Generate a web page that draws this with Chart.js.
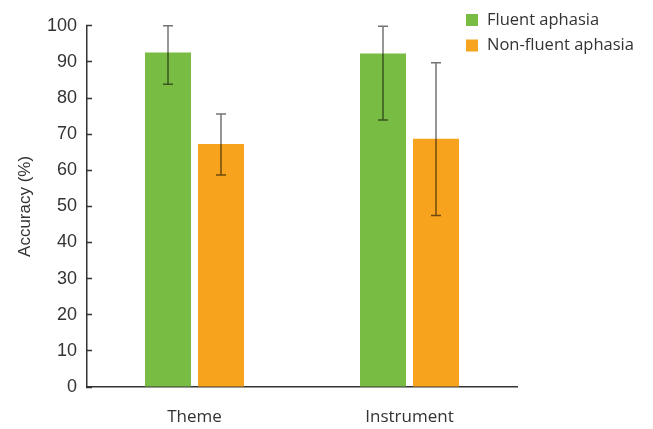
<!DOCTYPE html>
<html>
<head>
<meta charset="utf-8">
<script src="https://cdn.jsdelivr.net/npm/chart.js@4"></script>
<style>
  html, body { margin: 0; padding: 0; background: #fff; }
  #wrap { width: 653px; height: 429px; }
</style>
</head>
<body>
<div id="wrap"><canvas id="accChart"></canvas></div>
<script>
const categories = ['Theme', 'Instrument'];
const seriesNames = ['Fluent aphasia', 'Non-fluent aphasia'];
const fluent = [92.6, 92.3];
const nonFluent = [67.3, 68.7];
// error bar ends (low, high)
const fluentLow = [83.8, 73.9];
const fluentHigh = [100, 99.9];
const nonFluentLow = [58.7, 47.5];
const nonFluentHigh = [75.6, 89.8];
const yTicks = [0, 10, 20, 30, 40, 50, 60, 70, 80, 90, 100];

const green = '#78BC43';
const orange = '#F7A31E';

// draws the whiskers from the low/high arrays
const errorBars = {
  id: 'errorBars',
  afterDatasetsDraw(chart) {
    const ctx = chart.ctx;
    const y = chart.scales.y;
    chart.data.datasets.forEach((ds, di) => {
      const meta = chart.getDatasetMeta(di);
      meta.data.forEach((bar, i) => {
        const top = y.getPixelForValue(ds.errHigh[i]);
        const bot = y.getPixelForValue(ds.errLow[i]);
        ctx.save();
        ctx.strokeStyle = 'rgba(0,0,0,0.55)';
        ctx.lineWidth = 1.5;
        ctx.beginPath();
        ctx.moveTo(bar.x, top); ctx.lineTo(bar.x, bot);
        ctx.moveTo(bar.x - 5, top); ctx.lineTo(bar.x + 5, top);
        ctx.moveTo(bar.x - 5, bot); ctx.lineTo(bar.x + 5, bot);
        ctx.stroke();
        ctx.restore();
      });
    });
  }
};

// legend sits in the top right corner, partly over the plot
const cornerLegend = {
  id: 'cornerLegend',
  afterDraw(chart) {
    const ctx = chart.ctx;
    ctx.save();
    ctx.font = '16.5px "Open Sans"';
    ctx.textBaseline = 'middle';
    chart.data.datasets.forEach((ds, i) => {
      const cy = 20 + i * 25.5;
      ctx.fillStyle = ds.backgroundColor;
      ctx.fillRect(466, cy - 6, 12, 12);
      ctx.fillStyle = '#333';
      ctx.fillText(ds.label, 487, cy);
    });
    ctx.restore();
  }
};

new Chart(document.getElementById('accChart'), {
  type: 'bar',
  data: {
    labels: categories,
    datasets: [
      { label: seriesNames[0], data: fluent, backgroundColor: green, errLow: fluentLow, errHigh: fluentHigh },
      { label: seriesNames[1], data: nonFluent, backgroundColor: orange, errLow: nonFluentLow, errHigh: nonFluentHigh }
    ]
  },
  options: {
    responsive: true,
    maintainAspectRatio: false,
    animation: false,
    categoryPercentage: 0.493,
    barPercentage: 0.868,
    layout: { padding: { top: 11, right: 136, left: 0, bottom: 0 } },
    plugins: {
      legend: { display: false },
      tooltip: { enabled: false }
    },
    scales: {
      x: {
        afterFit(scale) { scale.height = 42; },
        grid: { display: false, drawTicks: false },
        border: { color: '#333', width: 1.5 },
        ticks: { color: '#333', font: { family: 'Open Sans', size: 17 }, padding: 20 }
      },
      y: {
        min: 0,
        max: 100,
        afterBuildTicks(scale) { scale.ticks = yTicks.map(v => ({ value: v })); },
        afterFit(scale) { scale.width = 87; },
        grid: { drawOnChartArea: false, drawTicks: true, tickLength: -5, tickColor: '#333', tickWidth: 1.5 },
        border: { color: '#333', width: 1.5 },
        ticks: { color: '#333', font: { family: 'Liberation Sans', size: 18 }, padding: 15 },
        title: { display: true, text: 'Accuracy (%)', color: '#333', font: { family: 'Liberation Sans', size: 17 }, padding: { top: 15 } }
      }
    }
  },
  plugins: [errorBars, cornerLegend]
});
</script>
</body>
</html>
